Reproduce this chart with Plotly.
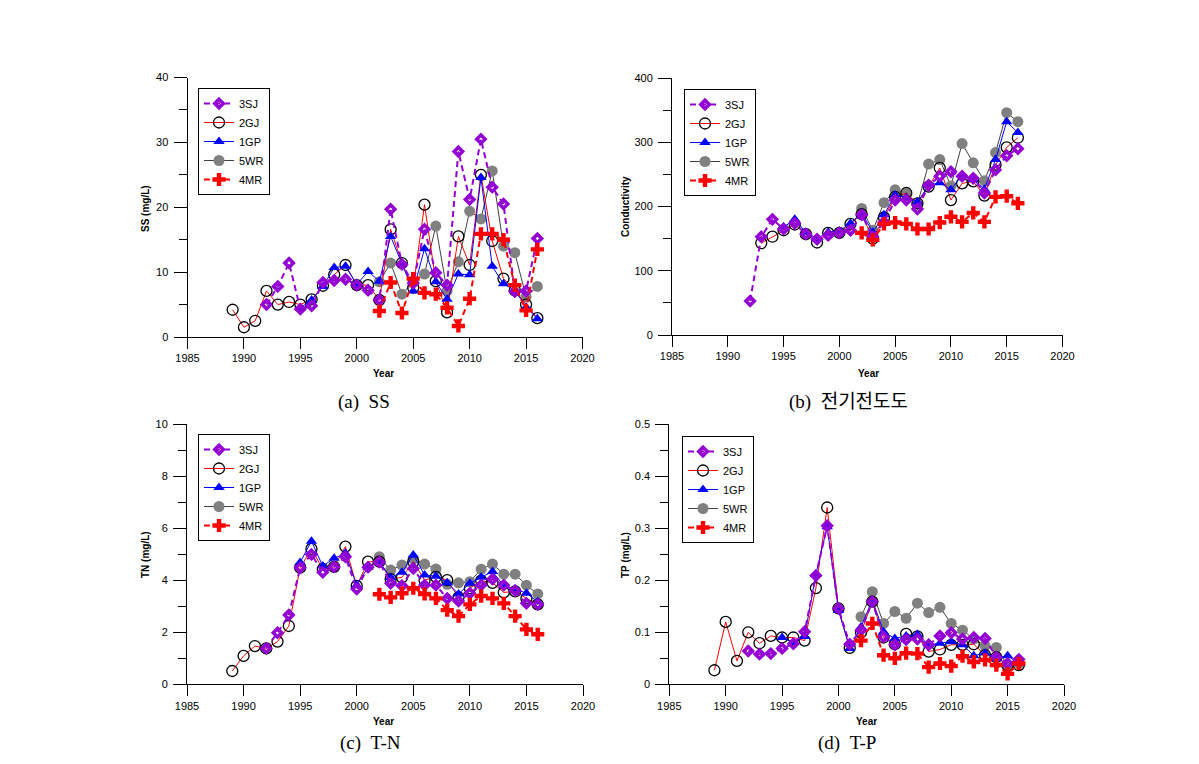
import plotly.graph_objects as go

# ---------------- data ----------------
yrs_3sj = list(range(1992, 2017))
yrs_2gj = list(range(1989, 2017))
yrs_1gp = list(range(1995, 2017))
yrs_5wr = list(range(2002, 2017))
yrs_4mr = list(range(2002, 2017))
yrs_ec_3sj = list(range(1992, 2017))
yrs_ec_2gj = list(range(1993, 2017))

series_names = ["3SJ", "2GJ", "1GP", "5WR", "4MR"]

# (a) SS (mg/L)
ss_3sj = [5.0, 7.8, 11.4, 4.3, 4.8, 8.4, 8.7, 8.9, 8.0, 7.2, 5.7, 19.7, 11.2, 8.3, 16.6, 9.9, 8.0, 28.6, 21.2, 30.5, 23.1, 20.5, 7.0, 7.1, 15.2]
ss_2gj = [4.2, 1.5, 2.5, 7.1, 5.0, 5.4, 5.0, 5.8, 7.9, 9.6, 11.1, 8.0, 8.0, 5.7, 16.6, 11.4, 7.6, 20.4, 8.6, 3.8, 15.5, 11.1, 25.0, 14.8, 9.0, 7.2, 5.0, 2.9]
ss_1gp = [4.5, 5.7, 7.8, 10.7, 10.9, 8.1, 10.1, 8.6, 15.5, 11.3, 7.1, 13.6, 8.5, 5.8, 9.7, 9.6, 24.6, 10.9, 8.2, 7.2, 4.6, 2.8]
ss_5wr = [8.5, 11.4, 6.6, 8.5, 9.7, 17.1, 7.1, 11.6, 19.4, 18.2, 25.6, 14.0, 13.0, 6.2, 7.8]
ss_4mr = [4.0, 8.4, 3.7, 9.0, 6.8, 6.6, 4.5, 1.7, 5.9, 15.9, 15.9, 15.0, 8.0, 4.1, 13.5]

# (b) Conductivity
ec_3sj = [53, 153, 180, 165, 174, 157, 149, 155, 159, 163, 187, 153, 176, 210, 210, 196, 233, 247, 254, 247, 244, 221, 257, 279, 290]
ec_2gj = [143, 153, 163, 172, 157, 144, 159, 159, 173, 188, 150, 183, 215, 221, 205, 231, 260, 210, 236, 239, 217, 265, 292, 307]
ec_1gp = [168, 180, 160, 150, 160, 162, 174, 190, 160, 187, 218, 214, 207, 233, 237, 226, 249, 242, 227, 273, 332, 315]
ec_5wr = [197, 163, 206, 226, 220, 204, 266, 273, 232, 298, 268, 240, 284, 346, 332]
ec_4mr = [159, 148, 173, 175, 173, 165, 165, 175, 184, 176, 190, 176, 215, 216, 205]

# (c) TN (mg/L)
tn_3sj = [1.38, 1.98, 2.66, 4.48, 4.99, 4.3, 4.51, 4.9, 3.66, 4.5, 4.7, 3.88, 3.79, 4.45, 3.81, 3.81, 3.3, 3.2, 3.5, 3.81, 4.04, 3.81, 3.6, 3.11, 3.07]
tn_2gj = [0.51, 1.09, 1.47, 1.38, 1.64, 2.24, 4.48, 5.2, 4.43, 4.51, 5.29, 3.78, 4.71, 4.71, 4.04, 4.11, 4.71, 4.0, 4.13, 4.0, 3.34, 3.69, 3.98, 3.9, 3.53, 3.57, 3.3, 3.07]
tn_1gp = [4.68, 5.5, 4.54, 4.84, 5.03, 3.81, 4.5, 4.71, 4.1, 4.3, 4.97, 4.2, 4.15, 3.9, 3.47, 3.88, 4.11, 4.33, 3.79, 3.66, 3.5, 3.17]
tn_5wr = [4.9, 4.39, 4.58, 4.81, 4.62, 4.43, 3.84, 3.9, 3.94, 4.42, 4.62, 4.23, 4.23, 3.81, 3.47]
tn_4mr = [3.46, 3.34, 3.5, 3.69, 3.47, 3.3, 2.85, 2.62, 3.07, 3.39, 3.3, 3.11, 2.62, 2.11, 1.92]

# (d) TP (mg/L)
tp_3sj = [0.064, 0.058, 0.059, 0.069, 0.078, 0.101, 0.209, 0.305, 0.146, 0.077, 0.104, 0.159, 0.091, 0.076, 0.086, 0.087, 0.076, 0.093, 0.099, 0.087, 0.090, 0.088, 0.052, 0.040, 0.048]
tp_2gj = [0.027, 0.120, 0.045, 0.100, 0.079, 0.093, 0.090, 0.090, 0.084, 0.185, 0.340, 0.146, 0.070, 0.100, 0.159, 0.090, 0.077, 0.097, 0.092, 0.063, 0.067, 0.076, 0.076, 0.077, 0.056, 0.052, 0.036, 0.037]
tp_1gp = [0.090, 0.080, 0.092, 0.212, 0.303, 0.142, 0.069, 0.110, 0.162, 0.101, 0.088, 0.093, 0.096, 0.076, 0.079, 0.082, 0.076, 0.055, 0.060, 0.050, 0.055, 0.040]
tp_5wr = [0.130, 0.178, 0.117, 0.140, 0.127, 0.156, 0.138, 0.148, 0.117, 0.104, 0.087, 0.074, 0.071, 0.036, 0.040]
tp_4mr = [0.084, 0.117, 0.056, 0.050, 0.060, 0.059, 0.033, 0.040, 0.035, 0.054, 0.043, 0.047, 0.037, 0.020, 0.040]

y_titles = ["SS (mg/L)", "Conductivity", "TN (mg/L)", "TP (mg/L)"]
x_title = "Year"
captions = ["(a)&nbsp;&nbsp;SS", "(b)&nbsp;&nbsp;전기전도도", "(c)&nbsp;&nbsp;T-N", "(d)&nbsp;&nbsp;T-P"]
y_ranges = [[0, 40], [0, 400], [0, 10], [0, 0.5]]
y_dticks = [10, 100, 2, 0.1]
x_tickvals = [1985, 1990, 1995, 2000, 2005, 2010, 2015, 2020]

# ---------------- layout geometry ----------------
OFF = 8                       # page body margin
W, H = 1199 - 2 * OFF, 764 - 2 * OFF


def px(xp):
    return (xp - OFF) / W


def py(yp):
    return 1 - (yp - OFF) / H


styles = {
    "3SJ": dict(line=dict(color="#9400D3", width=2, dash="6px,4px"),
                marker=dict(symbol="diamond-open", size=6.5, color="#9400D3", line=dict(color="#9A2BD8", width=3.5))),
    "2GJ": dict(line=dict(color="#FF0000", width=1),
                marker=dict(symbol="circle-open", size=11, color="#000000", line=dict(color="#000000", width=1.3))),
    "1GP": dict(line=dict(color="#0000FF", width=1),
                marker=dict(symbol="triangle-up", size=10, color="#0000FF")),
    "5WR": dict(line=dict(color="#404040", width=1),
                marker=dict(symbol="circle", size=11, color="#808080")),
    "4MR": dict(line=dict(color="#FF0000", width=2, dash="6px,4px"),
                marker=dict(symbol="cross", size=11, color="#FF0000")),
}
legend_rank = {"3SJ": 1, "2GJ": 2, "1GP": 3, "5WR": 4, "4MR": 5}
draw_order = ["5WR", "2GJ", "1GP", "3SJ", "4MR"]

panels = [
    {"3SJ": (yrs_3sj, ss_3sj), "2GJ": (yrs_2gj, ss_2gj), "1GP": (yrs_1gp, ss_1gp), "5WR": (yrs_5wr, ss_5wr), "4MR": (yrs_4mr, ss_4mr)},
    {"3SJ": (yrs_ec_3sj, ec_3sj), "2GJ": (yrs_ec_2gj, ec_2gj), "1GP": (yrs_1gp, ec_1gp), "5WR": (yrs_5wr, ec_5wr), "4MR": (yrs_4mr, ec_4mr)},
    {"3SJ": (yrs_3sj, tn_3sj), "2GJ": (yrs_2gj, tn_2gj), "1GP": (yrs_1gp, tn_1gp), "5WR": (yrs_5wr, tn_5wr), "4MR": (yrs_4mr, tn_4mr)},
    {"3SJ": (yrs_3sj, tp_3sj), "2GJ": (yrs_2gj, tp_2gj), "1GP": (yrs_1gp, tp_1gp), "5WR": (yrs_5wr, tp_5wr), "4MR": (yrs_4mr, tp_4mr)},
]

# page-pixel boxes of each plot area: (left, right, top, bottom)
boxes = [(187.5, 582.5, 77.5, 337), (672, 1062.5, 78, 335), (187, 583, 424, 684.3), (669.3, 1064, 424.3, 684.3)]
legend_pos = [(198, 88), (684, 89), (198, 434), (682, 436)]
caption_pos = [(364, 402, "middle"), (848, 402, "middle"), (370, 756, "bottom"), (847, 756, "bottom")]
ytitle_pos = [(145, 209), (625, 207), (145, 555), (625, 555)]
xtitle_pos = [(383, 374), (868, 373), (383, 721), (866, 721)]

fig = go.Figure()
sans = "Liberation Sans, Arial, sans-serif"
tick_font = dict(family=sans, size=11, color="#000000")
title_font = dict(family=sans, size=10, color="#000000")

for i, panel in enumerate(panels):
    k = "" if i == 0 else str(i + 1)
    lg = "legend" if i == 0 else "legend" + str(i + 1)
    for name in draw_order:
        xs, ys = panel[name]
        st = styles[name]
        fig.add_trace(go.Scatter(
            x=xs, y=ys, mode="lines+markers", name=name,
            line=st["line"], marker=st["marker"],
            xaxis="x" + k, yaxis="y" + k, legend=lg,
            legendrank=legend_rank[name], showlegend=True,
        ))
    l, r, t, b = boxes[i]
    fig.layout["xaxis" + k] = dict(
        domain=[px(l), px(r)], anchor="y" + k, range=[1985, 2020], automargin=False,
        tickvals=x_tickvals, showline=True, linecolor="black", linewidth=1,
        ticks="outside", ticklen=11, tickcolor="black", showgrid=False, zeroline=False,
        tickfont=tick_font,
    )
    fig.layout["yaxis" + k] = dict(
        domain=[py(b), py(t)], anchor="x" + k, range=y_ranges[i], automargin=False,
        dtick=y_dticks[i], showline=True, linecolor="black", linewidth=1,
        ticks="outside", ticklen=13, tickcolor="black", showgrid=False, zeroline=False,
        tickfont=tick_font, ticklabelstandoff=3,
        minor=dict(dtick=y_dticks[i] / 2, ticks="outside", ticklen=8, tickcolor="black", showgrid=False),
    )
    lx, ly = legend_pos[i]
    fig.layout[lg] = dict(
        x=px(lx), y=py(ly), xanchor="left", yanchor="top",
        bordercolor="black", borderwidth=1, bgcolor="white",
        font=dict(family=sans, size=11, color="#000000"),
        itemwidth=30, tracegroupgap=0,
    )
    cx, cy, anc = caption_pos[i]
    fig.add_annotation(
        x=px(cx), y=py(cy), xref="paper", yref="paper", showarrow=False,
        text=captions[i], xanchor="center", yanchor=anc,
        font=dict(family="Liberation Serif, Noto Sans CJK KR, serif", size=19, color="#000000"),
    )
    tx, ty = ytitle_pos[i]
    fig.add_annotation(
        x=px(tx), y=py(ty), xref="paper", yref="paper", showarrow=False,
        text="<b>" + y_titles[i] + "</b>", textangle=-90, xanchor="center", yanchor="middle",
        font=title_font,
    )
    ax, ay = xtitle_pos[i]
    fig.add_annotation(
        x=px(ax), y=py(ay), xref="paper", yref="paper", showarrow=False,
        text="<b>" + x_title + "</b>", xanchor="center", yanchor="middle",
        font=title_font,
    )

fig.update_layout(
    template="none",
    width=W, height=H, margin=dict(l=0, r=0, t=0, b=0, autoexpand=False),
    paper_bgcolor="white", plot_bgcolor="white",
    font=dict(family=sans, color="#000000"),
)

fig.write_html("out.html")
